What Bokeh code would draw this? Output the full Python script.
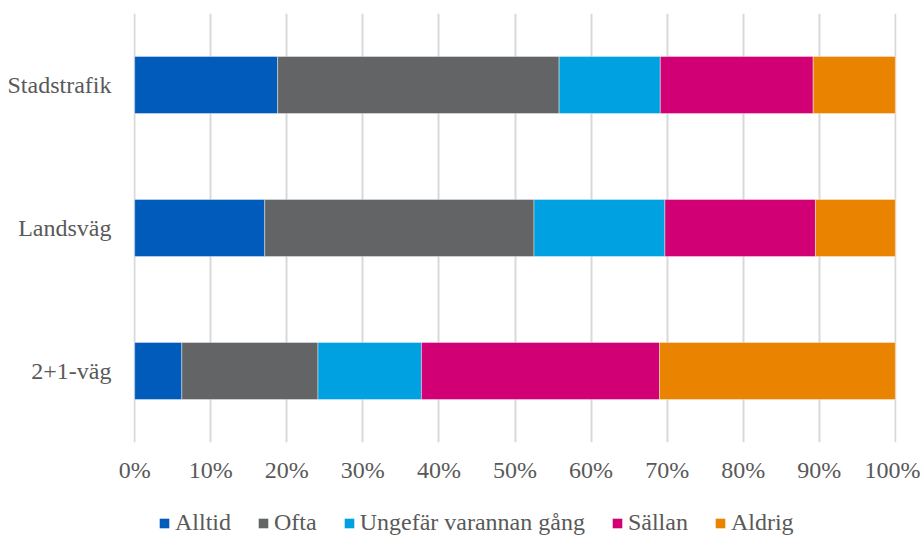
from bokeh.plotting import figure
from bokeh.layouts import column
from bokeh.models import FactorRange, Range1d, FixedTicker, PrintfTickFormatter, Legend, LegendItem, ColumnDataSource
from bokeh.embed import file_html
from bokeh.resources import INLINE

categories = ["2+1-väg", "Landsväg", "Stadstrafik"]
series = ["Alltid", "Ofta", "Ungefär varannan gång", "Sällan", "Aldrig"]
alltid = [6.2, 17.1, 18.8]
ofta = [17.9, 35.4, 37.0]
ungefar = [13.6, 17.2, 13.3]
sallan = [31.3, 19.8, 20.1]
aldrig = [31.0, 10.5, 10.8]
colors = ["#005BBB", "#636466", "#00A1E0", "#D10074", "#EA8300"]
x_ticks = [0, 10, 20, 30, 40, 50, 60, 70, 80, 90, 100]

src = ColumnDataSource(dict(cat=categories, Alltid=alltid, Ofta=ofta,
                            Ungefar=ungefar, Sallan=sallan, Aldrig=aldrig))
keys = ["Alltid", "Ofta", "Ungefar", "Sallan", "Aldrig"]

FONT = "Liberation Serif"
TXT = "#595959"

p = figure(width=920, height=485, output_backend="svg", toolbar_location=None,
           y_range=FactorRange(factors=categories, range_padding=0),
           x_range=Range1d(-0.15, 100.15),
           min_border_left=133, min_border_right=24, min_border_top=13, min_border_bottom=43)

renderers = p.hbar_stack(keys, y="cat", height=0.4, color=colors, source=src,
                         line_color="white", line_alpha=0.4, line_width=1)

p.outline_line_color = None
p.ygrid.grid_line_color = None
p.xgrid.grid_line_color = "#D9D9D9"
p.xgrid.grid_line_width = 2
p.xaxis.ticker = FixedTicker(ticks=x_ticks)
p.xaxis.formatter = PrintfTickFormatter(format="%d%%")
for ax in (p.xaxis, p.yaxis):
    ax.axis_line_color = None
    ax.major_tick_line_color = None
    ax.minor_tick_line_color = None
    ax.major_label_text_font = FONT
    ax.major_label_text_font_size = "24px"
    ax.major_label_text_color = TXT
p.xaxis.major_label_standoff = 8
p.yaxis.major_label_standoff = 16

# legend strip: a second figure whose frame the column layout aligns with the main frame;
# it shares the bar source, its y-range hides the (legend-only) bars
lg = figure(width=920, height=51, output_backend="svg", toolbar_location=None,
            x_range=p.x_range, y_range=Range1d(10, 11),
            x_axis_type=None, y_axis_type=None,
            min_border_left=133, min_border_right=24, min_border_top=0, min_border_bottom=0)
lg.outline_line_color = None
lg.grid.grid_line_color = None
src2 = ColumnDataSource(dict(pos=[0, 1, 2], Alltid=alltid, Ofta=ofta,
                             Ungefar=ungefar, Sallan=sallan, Aldrig=aldrig))
dummies = lg.hbar_stack(keys, y="pos", height=0.4, color=colors, source=src2, line_color=None)

legend = Legend(items=[LegendItem(label=s, renderers=[r]) for s, r in zip(series, dummies)],
                orientation="horizontal", location=(25, 0),
                glyph_width=12, glyph_height=12, label_standoff=5, spacing=26,
                label_height=14, padding=0, margin=0, border_line_color=None,
                background_fill_alpha=0,
                label_text_font=FONT, label_text_font_size="24px", label_text_color=TXT)
lg.add_layout(legend, "center")

open("out.html", "w").write(file_html(column(p, lg, spacing=0), INLINE))
